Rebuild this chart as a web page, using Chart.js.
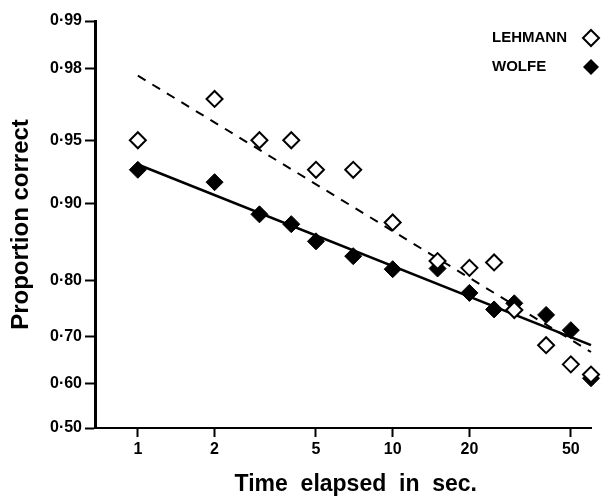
<!DOCTYPE html>
<html>
<head>
<meta charset="utf-8">
<script src="https://cdn.jsdelivr.net/npm/chart.js@4/dist/chart.umd.min.js"></script>
<style>
html,body{margin:0;padding:0;background:#fff;}
canvas{display:block;}
</style>
</head>
<body>
<canvas id="c" width="601" height="496"></canvas>
<script>
// ---- data ----
const times = [1, 2, 3, 4, 5, 7, 10, 15, 20, 25, 30, 40, 50, 60];
const lehmann = [0.95, 0.97, 0.95, 0.95, 0.93, 0.93, 0.88, 0.83, 0.82, 0.828, 0.75, 0.682, 0.642, 0.62];
const wolfe = [0.93, 0.92, 0.889, 0.878, 0.857, 0.837, 0.818, 0.819, 0.78, 0.751, 0.762, 0.741, 0.712, 0.612];
const fitTimes = [1, 60];
const lehmannFit = [0.978, 0.668];
const wolfeFit = [0.934, 0.682];
const yTickProbs = [0.50, 0.60, 0.70, 0.80, 0.90, 0.95, 0.98, 0.99];
const yTickLabels = ['0·50', '0·60', '0·70', '0·80', '0·90', '0·95', '0·98', '0·99'];
const xTickValues = [1, 2, 5, 10, 20, 50];
const xTickLabels = ['1', '2', '5', '10', '20', '50'];
const seriesNames = ['LEHMANN', 'WOLFE'];

// inverse normal CDF (probit) for the probability-scale axis
function probit(p) {
  const a = [-3.969683028665376e+01, 2.209460984245205e+02, -2.759285104469687e+02, 1.383577518672690e+02, -3.066479806614716e+01, 2.506628277459239e+00];
  const b = [-5.447609879822406e+01, 1.615858368580409e+02, -1.556989798598866e+02, 6.680131188771972e+01, -1.328068155288572e+01];
  const c = [-7.784894002430293e-03, -3.223964580411365e-01, -2.400758277161838e+00, -2.549732539343734e+00, 4.374664141464968e+00, 2.938163982698783e+00];
  const d = [7.784695709041462e-03, 3.224671290700398e-01, 2.445134137142996e+00, 3.754408661907416e+00];
  const pl = 0.02425, ph = 1 - pl;
  let q, r;
  if (p < pl) {
    q = Math.sqrt(-2 * Math.log(p));
    return (((((c[0]*q+c[1])*q+c[2])*q+c[3])*q+c[4])*q+c[5]) / ((((d[0]*q+d[1])*q+d[2])*q+d[3])*q+1);
  }
  if (p <= ph) {
    q = p - 0.5; r = q * q;
    return (((((a[0]*r+a[1])*r+a[2])*r+a[3])*r+a[4])*r+a[5])*q / (((((b[0]*r+b[1])*r+b[2])*r+b[3])*r+b[4])*r+1);
  }
  q = Math.sqrt(-2 * Math.log(1 - p));
  return -(((((c[0]*q+c[1])*q+c[2])*q+c[3])*q+c[4])*q+c[5]) / ((((d[0]*q+d[1])*q+d[2])*q+d[3])*q+1);
}

const toPts = (xs, ps) => xs.map((x, i) => ({x: x, y: probit(ps[i])}));
const FONT = "'Liberation Sans', Arial, sans-serif";

const legendPlugin = {
  id: 'rightLegend',
  afterDraw(chart) {
    const ctx = chart.ctx;
    ctx.save();
    ctx.fillStyle = '#000';
    ctx.font = 'bold 15px ' + FONT;
    ctx.textBaseline = 'middle';
    ctx.textAlign = 'left';
    const rows = [38, 67];
    seriesNames.forEach((name, i) => {
      ctx.fillText(name, 492, rows[i]);
      const cx = 591, cy = rows[i], r = 8;
      ctx.beginPath();
      ctx.moveTo(cx, cy - r); ctx.lineTo(cx + r, cy); ctx.lineTo(cx, cy + r); ctx.lineTo(cx - r, cy); ctx.closePath();
      if (i === 0) { ctx.fillStyle = '#fff'; ctx.fill(); ctx.lineWidth = 2; ctx.strokeStyle = '#000'; ctx.stroke(); ctx.fillStyle = '#000'; }
      else { ctx.fill(); }
    });
    ctx.restore();
  }
};

new Chart(document.getElementById('c'), {
  type: 'scatter',
  data: {
    datasets: [
      {label: seriesNames[0], data: toPts(times, lehmann), order: 0, pointStyle: 'rectRot', pointRadius: 8, pointBorderWidth: 2, borderColor: '#000', backgroundColor: '#fff', showLine: false},
      {label: seriesNames[1], data: toPts(times, wolfe), order: 1, pointStyle: 'rectRot', pointRadius: 8.5, pointBorderWidth: 1, borderColor: '#000', backgroundColor: '#000', showLine: false},
      {label: 'fitL', data: toPts(fitTimes, lehmannFit), order: 2, showLine: true, borderColor: '#000', borderWidth: 2, borderDash: [9, 8], pointRadius: 0, fill: false},
      {label: 'fitW', data: toPts(fitTimes, wolfeFit), order: 3, showLine: true, borderColor: '#000', borderWidth: 2.5, pointRadius: 0, fill: false}
    ]
  },
  options: {
    responsive: false,
    animation: false,
    events: [],
    layout: {padding: {left: 0, top: 21, right: 6, bottom: 0}},
    plugins: {legend: {display: false}, tooltip: {enabled: false}},
    elements: {point: {hoverRadius: 0}},
    clip: false,
    scales: {
      x: {
        type: 'logarithmic',
        min: 0.679,
        max: 60,
        afterBuildTicks: (s) => { s.ticks = xTickValues.map(v => ({value: v, major: true})); },
        afterFit: (s) => { s.height = 68; },
        ticks: {
          callback: (v, i) => xTickLabels[i],
          autoSkip: false, maxRotation: 0, padding: 3,
          color: '#000', font: {family: FONT, size: 16, weight: 'bold'}
        },
        grid: {display: true, drawOnChartArea: false, drawTicks: true, tickLength: 9, tickWidth: 2, color: '#000', tickColor: '#000'},
        border: {display: true, color: '#000', width: 2},
        title: {display: true, text: '    Time  elapsed  in  sec.', color: '#000', font: {family: FONT, size: 23, weight: 'bold', lineHeight: 1}, padding: {top: 0, bottom: 0}}
      },
      y: {
        type: 'linear',
        min: probit(yTickProbs[0]),
        max: probit(yTickProbs[yTickProbs.length - 1]),
        afterBuildTicks: (s) => { s.ticks = yTickProbs.map(p => ({value: probit(p)})); },
        afterFit: (s) => { s.width = 95; },
        ticks: {
          callback: (v, i) => yTickLabels[i],
          autoSkip: false, padding: 3,
          color: '#000', font: {family: FONT, size: 16, weight: 'bold'}
        },
        grid: {display: true, drawOnChartArea: false, drawTicks: true, tickLength: 10, tickWidth: 2, color: '#000', tickColor: '#000'},
        border: {display: true, color: '#000', width: 3},
        title: {display: true, text: 'Proportion correct', color: '#000', font: {family: FONT, size: 24, weight: 'bold', lineHeight: 1.2}, padding: {top: 7, bottom: 0}}
      }
    }
  },
  plugins: [legendPlugin]
});
</script>
</body>
</html>
